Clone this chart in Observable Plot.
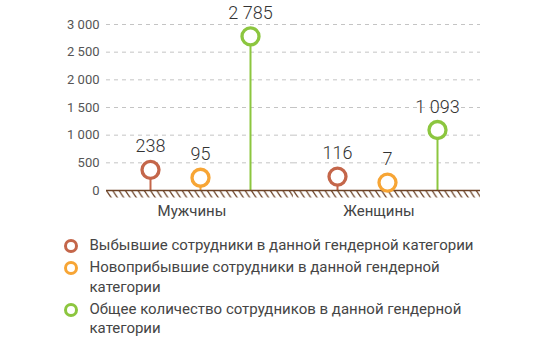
<!DOCTYPE html>
<html>
<head>
<meta charset="utf-8">
<script src="https://cdn.jsdelivr.net/npm/d3@7"></script>
<script src="https://cdn.jsdelivr.net/npm/@observablehq/plot@0.6"></script>
<style>
  html, body { margin: 0; padding: 0; background: #fff; }
  body { width: 550px; height: 353px; overflow: hidden; font-family: Roboto, "Noto Sans", sans-serif; }
  #chart svg { display: block; }
  .legend { margin-top: 4px; padding-left: 64px; font-size: 15px; line-height: 19.4px; color: #454545; }
  .legend .item { display: flex; align-items: flex-start; margin-bottom: 2.8px; }
  .legend .sw { flex: none; box-sizing: border-box; width: 14px; height: 14px; border-radius: 50%; border: 3px solid; margin-top: 2.7px; margin-right: 11.5px; background: #fff; }
  .legend .txt { width: 392px; }
</style>
</head>
<body>
<div id="chart"></div>
<div class="legend" id="legend"></div>
<script>
// ---- data ----
const genders = ["Мужчины", "Женщины"];
const seriesNames = [
  "Выбывшие сотрудники в данной гендерной категории",
  "Новоприбывшие сотрудники в данной гендерной категории",
  "Общее количество сотрудников в данной гендерной категории"
];
const leftValues = [238, 116];      // Выбывшие
const joinedValues = [95, 7];       // Новоприбывшие
const totalValues = [2785, 1093];   // Общее количество
const seriesColors = ["#c4664a", "#f7a535", "#8cc63f"];
const yTicks = [0, 500, 1000, 1500, 2000, 2500, 3000];

// ---- table ----
const seriesValues = [leftValues, joinedValues, totalValues];
const rows = [];
genders.forEach((g, gi) => {
  seriesNames.forEach((s, si) => {
    rows.push({gender: g, series: s, value: seriesValues[si][gi], color: seriesColors[si]});
  });
});
const fmt = d3.formatLocale({thousands: "\u00a0", grouping: [3], decimal: ","}).format(",");
const small = rows.filter(d => d.value < 500);
const large = rows.filter(d => d.value >= 500);
const lift = -7.5;

const plot = Plot.plot({
  width: 550,
  height: 232,
  marginLeft: 105,
  marginRight: 70,
  marginTop: 24,
  marginBottom: 42,
  style: {fontFamily: "Roboto, 'Noto Sans', sans-serif", color: "#555", background: "#fff"},
  fx: {domain: genders, paddingInner: 0, paddingOuter: 0},
  x: {domain: seriesNames, type: "point", padding: 0.86, axis: null},
  y: {domain: [0, 3000], axis: null},
  marks: [
    Plot.gridY(yTicks, {stroke: "#c4c4c4", strokeOpacity: 1, strokeDasharray: "4,4", strokeWidth: 1}),
    Plot.axisY(yTicks, {tickSize: 0, tickPadding: 7, fontSize: 13, fill: "#555", tickFormat: fmt, label: null}),
    Plot.axisFx({anchor: "bottom", tickSize: 0, tickPadding: 15, dx: -8, fontSize: 15, fill: "#444", label: null}),
    Plot.ruleX(rows, {fx: "gender", x: "series", y1: 0, y2: "value", stroke: "color", strokeWidth: 2}),
    Plot.ruleY([0], {stroke: "url(#ground-hatch)", strokeWidth: 7, dy: 3.5}),
    Plot.ruleY([0], {stroke: "#6b4226", strokeWidth: 1.6}),
    Plot.dot(large, {fx: "gender", x: "series", y: "value", r: 8.5, stroke: "color", strokeWidth: 3.3, fill: "#fff"}),
    Plot.dot(small, {fx: "gender", x: "series", y: "value", r: 8.5, stroke: "color", strokeWidth: 3.3, fill: "#fff", dy: lift}),
    Plot.text(large, {fx: "gender", x: "series", y: "value", text: d => fmt(d.value), dy: -17.5, lineAnchor: "bottom", fontSize: 18, fontWeight: 300, fill: "#333"}),
    Plot.text(small, {fx: "gender", x: "series", y: "value", text: d => fmt(d.value), dy: -17.5 + lift, lineAnchor: "bottom", fontSize: 18, fontWeight: 300, fill: "#333"})
  ]
});

// hatch pattern for the ground line
const ns = "http://www.w3.org/2000/svg";
const defs = document.createElementNS(ns, "defs");
const pat = document.createElementNS(ns, "pattern");
pat.setAttribute("id", "ground-hatch");
pat.setAttribute("patternUnits", "userSpaceOnUse");
pat.setAttribute("width", "6.3");
pat.setAttribute("height", "9.45");
const p = document.createElementNS(ns, "path");
p.setAttribute("d", "M-1,-1.5 L7.3,10.95 M-7.3,-1.5 L1,10.95 M5.3,-1.5 L13.6,10.95");
p.setAttribute("stroke", "#6b4226");
p.setAttribute("stroke-width", "1.2");
pat.appendChild(p);
defs.appendChild(pat);
plot.insertBefore(defs, plot.firstChild);

document.getElementById("chart").appendChild(plot);

// legend
const legend = document.getElementById("legend");
seriesNames.forEach((s, i) => {
  const item = document.createElement("div");
  item.className = "item";
  const sw = document.createElement("span");
  sw.className = "sw";
  sw.style.borderColor = seriesColors[i];
  const t = document.createElement("span");
  t.className = "txt";
  t.textContent = s;
  item.appendChild(sw);
  item.appendChild(t);
  legend.appendChild(item);
});
</script>
</body>
</html>
